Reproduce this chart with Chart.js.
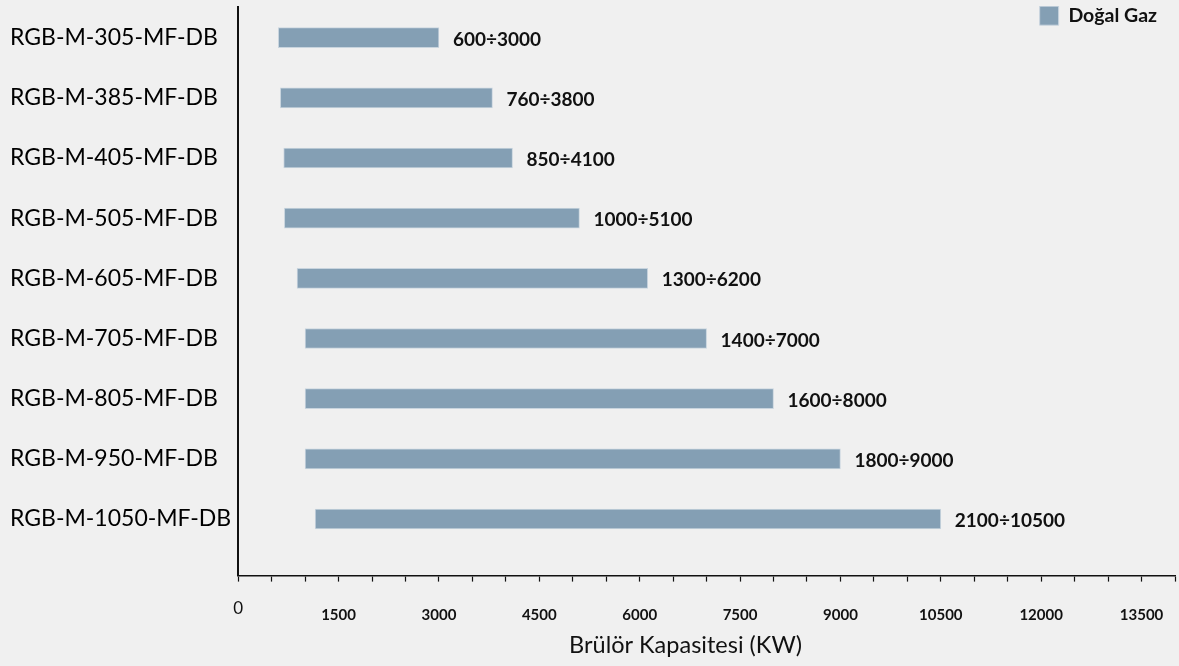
<!DOCTYPE html>
<html>
<head>
<meta charset="utf-8">
<script src="https://cdn.jsdelivr.net/npm/chart.js@4"></script>
<style>
    html, body { margin: 0; padding: 0; background: #f0f0f0; }
    #chartBox { width: 1179px; height: 666px; position: relative; }
</style>
</head>
<body>
<div id="chartBox"><canvas id="burnerChart"></canvas></div>
<script>
const models = [
    "RGB-M-305-MF-DB",
    "RGB-M-385-MF-DB",
    "RGB-M-405-MF-DB",
    "RGB-M-505-MF-DB",
    "RGB-M-605-MF-DB",
    "RGB-M-705-MF-DB",
    "RGB-M-805-MF-DB",
    "RGB-M-950-MF-DB",
    "RGB-M-1050-MF-DB",
];
// bar ends as drawn in the picture (kW)
const barStart = [600, 630, 680, 690, 880, 1000, 1000, 1000, 1150];
const barEnd = [3000, 3800, 4100, 5100, 6120, 7000, 8000, 9000, 10500];
const rangeLabels = [
    "600÷3000",
    "760÷3800",
    "850÷4100",
    "1000÷5100",
    "1300÷6200",
    "1400÷7000",
    "1600÷8000",
    "1800÷9000",
    "2100÷10500",
];
const seriesName = "Doğal Gaz";
const xMax = 14000;
const xTickStep = 500;
const xLabelStep = 1500;

const FONT = "Lato";

// writes the "min÷max" text right after each bar
const rangeLabelPlugin = {
    id: "rangeLabels",
    afterDatasetsDraw(chart) {
        const ctx = chart.ctx;
        const meta = chart.getDatasetMeta(0);
        ctx.save();
        ctx.font = `bold 19px ${FONT}`;
        ctx.fillStyle = "#111";
        ctx.textBaseline = "middle";
        meta.data.forEach((bar, i) => {
            ctx.fillText(rangeLabels[i], bar.x + 14, bar.y + 2);
        });
        ctx.restore();
    },
};

// legend sits over the plot (top right) without taking layout height
const legendOverlay = {
    id: "legendOverlay",
    beforeInit(chart) {
        const fitLegend = chart.legend.fit;
        chart.legend.fit = function () {
            fitLegend.call(this);
            this.height = 0;
        };
    },
    afterLayout(chart) {
        const lg = chart.legend;
        lg.right = chart.chartArea.right - 18;
        lg.top = chart.chartArea.top - 1;
        lg.bottom = lg.top + 24;
    },
};

function createChart() {
    const canvas = document.getElementById("burnerChart");
    const points = models.map((m, i) => ({ x: [barStart[i], barEnd[i]], y: i }));

    new Chart(canvas, {
        type: "bar",
        data: {
            datasets: [
                {
                    label: seriesName,
                    data: points,
                    backgroundColor: "#849fb4",
                    borderColor: "#c8d4de",
                    borderWidth: 1,
                    borderSkipped: false,
                    barThickness: 20,
                },
            ],
        },
        plugins: [rangeLabelPlugin, legendOverlay],
        options: {
            indexAxis: "y",
            responsive: true,
            maintainAspectRatio: false,
            animation: false,
            layout: { padding: { left: 10, top: 0, right: 4, bottom: 5 } },
            scales: {
                x: {
                    type: "linear",
                    min: 0,
                    max: xMax,
                    border: { display: true, color: "#111", width: 1.6 },
                    grid: { display: true, drawOnChartArea: false, tickLength: 6, tickColor: "#111", tickWidth: 1.2 },
                    ticks: {
                        stepSize: xTickStep,
                        autoSkip: false,
                        maxRotation: 0,
                        padding: 4,
                        color: "#111",
                        font: (c) =>
                            c.tick && c.tick.value === 0
                                ? { family: FONT, size: 17, lineHeight: 2.69 }
                                : { family: FONT, size: 15, weight: "bold", lineHeight: 4.0 },
                        callback: (v) => (v % xLabelStep === 0 ? String(v) : ""),
                    },
                    title: {
                        display: true,
                        text: "Brülör Kapasitesi (KW)" + "\u00a0".repeat(7),
                        color: "#111",
                        font: { family: FONT, size: 23.5, lineHeight: 0.4 },
                        padding: { top: -9, bottom: 11 },
                    },
                },
                y: {
                    type: "linear",
                    reverse: true,
                    offset: false,
                    min: -0.51,
                    max: 8.94,
                    afterBuildTicks: (scale) => {
                        scale.ticks = scale.ticks.filter((t) => Number.isInteger(t.value));
                    },
                    border: { display: true, color: "#111", width: 2 },
                    grid: { display: false, offset: false, drawTicks: false, tickLength: 0 },
                    ticks: {
                        stepSize: 1,
                        autoSkip: false,
                        crossAlign: "far",
                        padding: 3.5,
                        color: "#000",
                        font: { family: FONT, size: 23, lineHeight: 0.3 },
                        callback: (v) => models[v],
                    },
                },
            },
            plugins: {
                legend: {
                    position: "top",
                    align: "end",
                    labels: {
                        boxWidth: 19,
                        boxHeight: 19,
                        padding: 0,
                        color: "#111",
                        font: { family: FONT, size: 19.5, weight: "bold" },
                    },
                },
                tooltip: { enabled: false },
            },
        },
    });
}

createChart();
</script>
</body>
</html>
